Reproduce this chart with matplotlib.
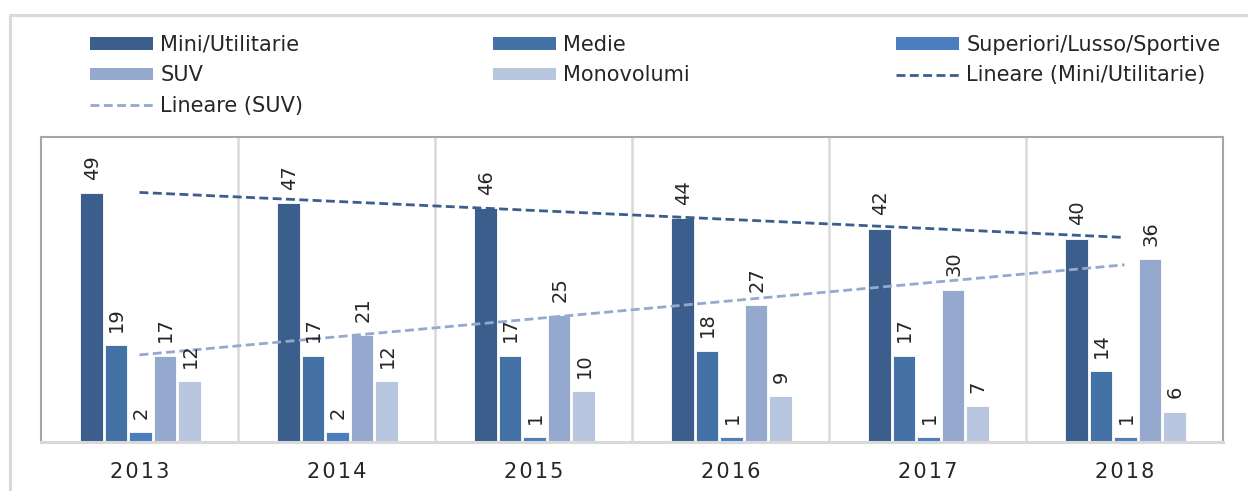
import numpy as np
import matplotlib
matplotlib.use("Agg")
import matplotlib.pyplot as plt
from matplotlib.patches import Patch
from matplotlib.lines import Line2D

years = ["2013", "2014", "2015", "2016", "2017", "2018"]
mini = [49, 47, 46, 44, 42, 40]
medie = [19, 17, 17, 18, 17, 14]
superiori = [2, 2, 1, 1, 1, 1]
suv = [17, 21, 25, 27, 30, 36]
monovolumi = [12, 12, 10, 9, 7, 6]

series_names = ["Mini/Utilitarie", "Medie", "Superiori/Lusso/Sportive", "SUV", "Monovolumi"]
series_values = [mini, medie, superiori, suv, monovolumi]
series_colors = ["#3B5E8C", "#4471A6", "#4C7DBF", "#95A9CF", "#B9C6E0"]
trend_names = ["Lineare (Mini/Utilitarie)", "Lineare (SUV)"]

W, H = 1248, 491
fig = plt.figure(figsize=(W / 100, H / 100), dpi=100)
plt.rcParams['font.family'] = ['DejaVu Sans']

# outer chart frame (only top/left visible)
fig.add_artist(Line2D([9.5 / W, 9.5 / W], [0, 1 - 14.5 / H], transform=fig.transFigure,
                      color="#D9D9D9", lw=2.2, solid_capstyle="butt"))
fig.add_artist(Line2D([8.5 / W, 1], [1 - 14.5 / H, 1 - 14.5 / H], transform=fig.transFigure,
                      color="#D9D9D9", lw=2.2, solid_capstyle="butt"))

ax = fig.add_axes([41 / W, (H - 442) / H, (1223 - 41) / W, (442 - 137) / H])
x = np.arange(len(years))
pitch = 0.1244
width = 0.114
for i, (name, vals, col) in enumerate(zip(series_names, series_values, series_colors)):
    off = (i - 2) * pitch + 0.005
    ax.bar(x + off, vals, width=width, color=col, edgecolor="white", linewidth=0.6, zorder=2, label=name)
    for xi, v in zip(x + off, vals):
        ax.annotate(str(v), (xi, v), xytext=(0.5, 9.5), textcoords="offset points",
                    rotation=90, ha="center", va="bottom", fontsize=14, color="#262626", zorder=5)

# linear trend lines
trend_colors = ["#3B5E8C", "#95A9CF"]
for vals, col in zip([mini, suv], trend_colors):
    k, c = np.polyfit(x, vals, 1)
    xx = np.array([x[0], x[-1]])
    ax.plot(xx, k * xx + c, color=col, lw=2.0, dashes=(3.2, 1.6), zorder=4)

ax.set_xlim(-0.5, len(years) - 0.5)
ax.set_ylim(0, 60)
ax.set_yticks([])
ax.set_xticks(x)
ax.set_xticklabels(["\u200a".join(y) for y in years], fontsize=15, color="#262626")
ax.tick_params(axis="x", length=0, pad=14.5)
for xb in np.arange(0.5, len(years) - 0.5, 1):
    ax.axvline(xb, color="#D9D9D9", lw=1.8, zorder=1)
for s in ["left", "right", "top"]:
    ax.spines[s].set_color("#A6A6A6")
    ax.spines[s].set_linewidth(1.5)
ax.spines["bottom"].set_color("#D9D9D9")
ax.spines["bottom"].set_linewidth(2.2)

# legend in three columns
def patch(c):
    return Patch(facecolor=c, edgecolor="none")

def dline(c):
    return Line2D([0], [0], color=c, lw=2.0, dashes=(3.2, 1.6))

cols = [
    ([patch(series_colors[0]), patch(series_colors[3]), dline(trend_colors[1])],
     [series_names[0], series_names[3], trend_names[1]], 90),
    ([patch(series_colors[1]), patch(series_colors[4])],
     [series_names[1], series_names[4]], 493),
    ([patch(series_colors[2]), dline(trend_colors[0])],
     [series_names[2], trend_names[0]], 896),
]
for handles, labels, xpx in cols:
    fig.legend(handles, labels, loc="upper left", bbox_to_anchor=(xpx / W, 1 - 35 / H),
               frameon=False, fontsize=15, handlelength=3.0, handleheight=0.55,
               handletextpad=0.38, labelspacing=0.5, borderpad=0, borderaxespad=0,
               labelcolor="#262626")

fig.savefig("out.png", dpi=100)
